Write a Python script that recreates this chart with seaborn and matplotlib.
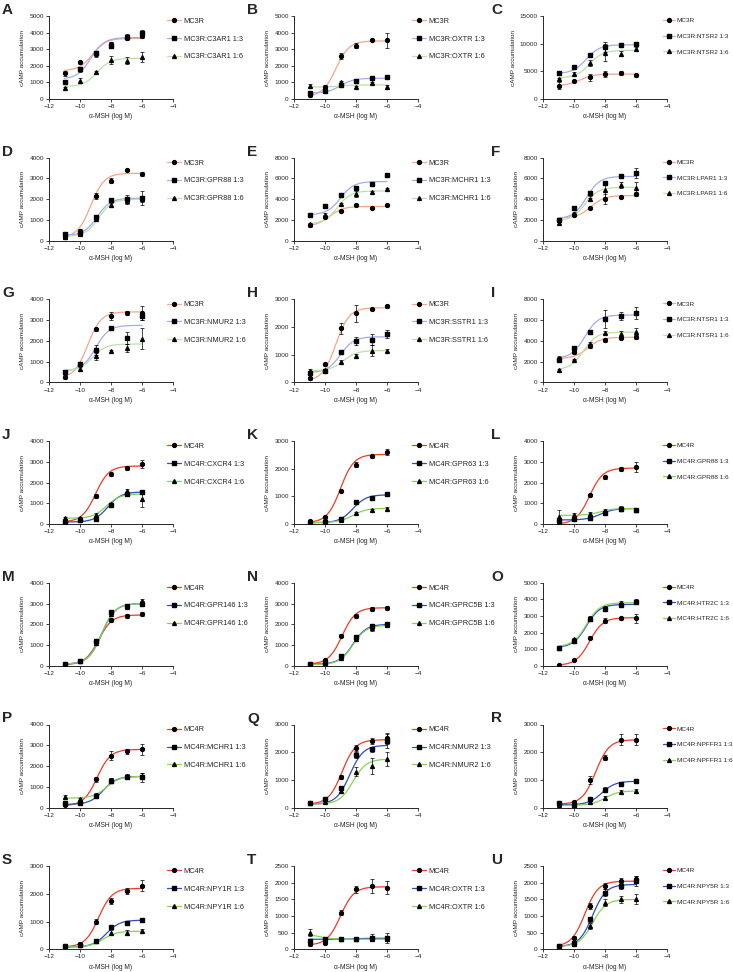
import matplotlib
matplotlib.use("Agg")
import matplotlib.pyplot as plt
import numpy as np
import pandas as pd
import seaborn as sns
from matplotlib.lines import Line2D

letters = list("ABCDEFGHIJKLMNOPQRSTU")
partners = ["C3AR1", "OXTR", "NTSR2", "GPR88", "MCHR1", "LPAR1", "NMUR2", "SSTR1", "NTSR1",
            "CXCR4", "GPR63", "GPR88", "GPR146", "GPRC5B", "HTR2C", "MCHR1", "NMUR2", "NPFFR1",
            "NPY1R", "OXTR", "NPY5R"]
y_max = [5000, 5000, 15000, 4000, 8000, 8000, 4000, 3000, 8000,
         4000, 3000, 4000, 4000, 4000, 5000, 4000, 3000, 3000, 3000, 2500, 2500]
y_step = [1000, 1000, 5000, 1000, 2000, 2000, 1000, 1000, 2000,
          1000, 1000, 1000, 1000, 1000, 1000, 1000, 1000, 1000, 1000, 500, 500]
log_dose = [-11, -10, -9, -8, -7, -6]

# receptor alone (MC3R for A-I, MC4R for J-U)
mc_means = [
    [1550, 2200, 2700, 3300, 3700, 3800],
    [250, 750, 2600, 3200, 3550, 3550],
    [2400, 3200, 3900, 4500, 4700, 4300],
    [200, 450, 2150, 2900, 3400, 3200],
    [1500, 2300, 2850, 3400, 3150, 3400],
    [2000, 2500, 3150, 4000, 4200, 4500],
    [250, 900, 2550, 3200, 3350, 3350],
    [150, 650, 1950, 2500, 2650, 2750],
    [2300, 2900, 3500, 4100, 4300, 4400],
    [150, 200, 1350, 2400, 2700, 2900],
    [100, 250, 1200, 2150, 2450, 2600],
    [100, 250, 1400, 2250, 2650, 2750],
    [100, 250, 1200, 2200, 2400, 2500],
    [100, 300, 1450, 2400, 2750, 2800],
    [50, 350, 1700, 2700, 2850, 2850],
    [100, 250, 1350, 2500, 2700, 2800],
    [150, 300, 1100, 2150, 2400, 2500],
    [150, 200, 1000, 1800, 2450, 2450],
    [100, 200, 1000, 1750, 2100, 2300],
    [150, 200, 1100, 1800, 1900, 1850],
    [100, 350, 1300, 1900, 2050, 2100],
]
mc_sem = [
    [150, 100, 150, 150, 150, 150],
    [100, 100, 200, 150, 80, 450],
    [600, 200, 600, 600, 300, 300],
    [100, 100, 150, 100, 50, 100],
    [150, 150, 100, 80, 80, 80],
    [150, 150, 100, 500, 100, 150],
    [100, 100, 80, 200, 80, 350],
    [50, 50, 200, 300, 50, 50],
    [200, 150, 200, 200, 150, 200],
    [50, 50, 100, 80, 80, 200],
    [50, 50, 50, 80, 50, 100],
    [50, 50, 50, 80, 80, 250],
    [50, 50, 80, 100, 100, 100],
    [50, 50, 80, 80, 100, 100],
    [50, 50, 100, 150, 100, 300],
    [50, 50, 100, 200, 100, 250],
    [50, 50, 80, 100, 100, 200],
    [50, 50, 150, 100, 200, 200],
    [50, 50, 80, 100, 100, 200],
    [50, 50, 80, 100, 200, 200],
    [50, 50, 80, 100, 100, 100],
]
# receptor : partner 1:3
r13_means = [
    [1050, 1800, 2750, 3200, 3750, 4000],
    [360, 460, 860, 1100, 1240, 1300],
    [4700, 5800, 8000, 9400, 9700, 10000],
    [300, 350, 1150, 1950, 2000, 2050],
    [2450, 3300, 4400, 5050, 5450, 6300],
    [2000, 3150, 4550, 5600, 6200, 6500],
    [500, 900, 1550, 2600, 2150, 3200],
    [350, 400, 1100, 1500, 1550, 1750],
    [2200, 3300, 4850, 6100, 6400, 6700],
    [100, 200, 250, 900, 1450, 1550],
    [50, 80, 200, 800, 950, 1070],
    [200, 250, 300, 550, 750, 700],
    [100, 250, 1200, 2600, 2900, 3000],
    [100, 150, 450, 1400, 1900, 2000],
    [1100, 1500, 2800, 3400, 3650, 3850],
    [200, 200, 550, 1300, 1450, 1450],
    [150, 300, 700, 1900, 2100, 2400],
    [150, 100, 300, 650, 850, 950],
    [100, 150, 300, 800, 950, 1050],
    [250, 300, 300, 300, 350, 350],
    [100, 200, 900, 1700, 1900, 2050],
]
r13_sem = [
    [100, 150, 150, 150, 150, 150],
    [100, 100, 80, 80, 80, 100],
    [300, 300, 300, 900, 300, 300],
    [100, 100, 100, 100, 200, 350],
    [100, 100, 100, 100, 100, 200],
    [200, 200, 200, 200, 150, 500],
    [100, 100, 250, 80, 300, 200],
    [50, 50, 50, 150, 200, 150],
    [200, 200, 150, 900, 400, 600],
    [50, 50, 50, 80, 80, 80],
    [30, 30, 50, 80, 50, 50],
    [50, 50, 50, 50, 80, 80],
    [50, 50, 80, 100, 100, 100],
    [50, 50, 50, 100, 100, 100],
    [100, 100, 100, 100, 100, 100],
    [50, 50, 80, 100, 100, 200],
    [50, 50, 80, 100, 100, 250],
    [50, 50, 50, 80, 80, 80],
    [50, 50, 50, 80, 80, 80],
    [50, 50, 50, 50, 100, 150],
    [50, 50, 80, 100, 100, 150],
]
# receptor : partner 1:6
r16_means = [
    [650, 1100, 1600, 2350, 2300, 2550],
    [800, 700, 1000, 720, 960, 720],
    [3600, 4600, 6500, 8400, 8200, 9000],
    [200, 300, 1050, 1700, 1900, 2000],
    [1600, 2450, 3550, 4500, 4650, 4950],
    [1700, 2600, 4000, 4850, 5350, 5100],
    [500, 650, 1250, 1500, 1650, 2100],
    [400, 450, 750, 950, 1150, 1150],
    [1200, 2200, 3700, 4800, 4700, 4900],
    [300, 300, 450, 950, 1600, 1200],
    [80, 60, 150, 400, 500, 560],
    [350, 450, 500, 650, 750, 700],
    [100, 250, 1100, 2500, 2850, 3100],
    [50, 150, 400, 1300, 1800, 1950],
    [1100, 1600, 2900, 3500, 3800, 3900],
    [500, 400, 600, 1300, 1500, 1500],
    [150, 200, 600, 1300, 1500, 1750],
    [100, 100, 200, 350, 550, 600],
    [100, 150, 300, 600, 600, 650],
    [500, 300, 300, 300, 300, 300],
    [100, 150, 700, 1400, 1500, 1500],
]
r16_sem = [
    [80, 150, 80, 250, 200, 300],
    [80, 80, 100, 80, 80, 100],
    [200, 200, 500, 1500, 500, 400],
    [80, 80, 80, 100, 150, 150],
    [100, 200, 100, 300, 100, 100],
    [150, 150, 150, 600, 300, 600],
    [80, 80, 150, 80, 200, 500],
    [80, 50, 50, 80, 200, 50],
    [80, 80, 200, 150, 300, 300],
    [50, 50, 100, 80, 100, 400],
    [30, 30, 30, 50, 50, 50],
    [350, 100, 80, 80, 100, 80],
    [50, 50, 80, 100, 100, 100],
    [50, 50, 50, 100, 100, 100],
    [100, 100, 100, 100, 100, 100],
    [100, 80, 80, 100, 100, 150],
    [50, 50, 80, 150, 300, 250],
    [50, 50, 50, 50, 80, 80],
    [50, 50, 50, 80, 80, 80],
    [100, 50, 50, 50, 50, 50],
    [50, 50, 80, 100, 100, 150],
]

# fitted sigmoid parameters: (bottom, top, logEC50)
mc_fit = [(1700, 3650, -9.2), (150, 3500, -9.3), (2400, 4500, -9.6), (150, 3250, -9.3),
          (1400, 3300, -9.7), (2200, 4350, -8.9), (200, 3400, -9.5), (50, 2700, -9.3),
          (2300, 4350, -9.1), (100, 2800, -9.0), (50, 2520, -9.0), (0, 2700, -9.0),
          (50, 2450, -8.8), (80, 2800, -8.9), (30, 2900, -9.0), (80, 2800, -8.9),
          (120, 2450, -8.9), (120, 2450, -8.6), (80, 2200, -8.8), (120, 1880, -9.0),
          (80, 2050, -9.3)]
r13_fit = [(1200, 3700, -9.3), (350, 1250, -9.0), (4600, 9800, -9.2), (250, 2050, -8.9),
           (2500, 5700, -9.0), (2100, 6200, -9.2), (550, 2750, -9.0), (350, 1650, -9.0),
           (2300, 6500, -9.3), (100, 1550, -8.2), (50, 1060, -8.2), (200, 750, -8.3),
           (80, 3000, -8.6), (80, 2000, -8.2), (1100, 3700, -9.2), (150, 1500, -8.5),
           (120, 2250, -8.4), (100, 950, -8.2), (80, 1050, -8.3), (300, 330, -8.0),
           (80, 1950, -8.8)]
r16_fit = [(750, 2450, -8.9), (720, 850, -9.0), (3800, 8800, -9.0), (200, 2000, -8.8),
           (1600, 4800, -9.2), (1900, 5150, -9.3), (550, 1850, -9.2), (420, 1150, -8.8),
           (1200, 4850, -9.4), (280, 1450, -8.3), (60, 570, -8.2), (420, 760, -8.3),
           (80, 3000, -8.6), (60, 1950, -8.2), (1150, 3800, -9.2), (450, 1500, -8.3),
           (120, 1750, -8.2), (80, 600, -8.0), (80, 650, -8.5), (450, 300, -10.3),
           (80, 1500, -8.8)]

mc3_colors = ["#F5A689", "#A3ACEE", "#BAE2A6"]
mc4_colors = ["#EE3B24", "#2E4CC4", "#86D35A"]
markers = ["o", "s", "^"]

sns.set_theme(style="ticks")
plt.rcParams["font.family"] = ["Liberation Sans", "DejaVu Sans"]

W, H = 733, 972
fig = plt.figure(figsize=(W / 100, H / 100), dpi=100)

col_left = [49, 294, 543]
letter_x = [2, 247, 491]
legend_x = [0.955, 0.955, 0.965]
legend_fs = [5.3, 5.3, 4.6]
ax_w, ax_h = 124, 83
row_top0, row_pitch = 16, 141.7

x_curve = np.linspace(-11, -6, 120)

for i, letter in enumerate(letters):
    r, c = divmod(i, 3)
    top = row_top0 + r * row_pitch
    ax = fig.add_axes([col_left[c] / W, 1 - (top + ax_h) / H, ax_w / W, ax_h / H])
    base = "MC3R" if i < 9 else "MC4R"
    colors = mc3_colors if i < 9 else mc4_colors
    labels = [base, f"{base}:{partners[i]} 1:3", f"{base}:{partners[i]} 1:6"]
    means = [mc_means[i], r13_means[i], r16_means[i]]
    sems = [mc_sem[i], r13_sem[i], r16_sem[i]]
    fits = [mc_fit[i], r13_fit[i], r16_fit[i]]

    for k in range(3):
        bottom, topv, ec = fits[k]
        curve = pd.DataFrame({"x": x_curve,
                              "y": bottom + (topv - bottom) / (1 + 10 ** (ec - x_curve))})
        sns.lineplot(data=curve, x="x", y="y", color=colors[k], lw=0.9, ax=ax, zorder=2)
        ax.errorbar(log_dose, means[k], yerr=sems[k], fmt=markers[k], color="black",
                    ms=2.8, capsize=1.3, elinewidth=0.5, capthick=0.5, zorder=3)

    ax.set_xlim(-12, -4)
    ax.set_xticks([-12, -10, -8, -6, -4])
    ax.set_ylim(0, y_max[i])
    ax.set_yticks(np.arange(0, y_max[i] + 1, y_step[i]))
    ax.set_xlabel("α-MSH (log M)", fontsize=4.8, labelpad=3)
    ax.set_ylabel("cAMP accumulation", fontsize=4.6, labelpad=3)
    ax.tick_params(axis="both", labelsize=4.6, length=2.2, width=0.6, pad=1.5)
    for s in ["left", "bottom"]:
        ax.spines[s].set_linewidth(0.7)
    sns.despine(ax=ax)

    handles = [Line2D([0], [0], color=colors[k], lw=0.9, marker=markers[k], ms=2.8,
                      markerfacecolor="black", markeredgecolor="black", label=labels[k])
               for k in range(3)]
    ax.legend(handles=handles, loc="upper left", bbox_to_anchor=(legend_x[c], 0.98),
              frameon=False, fontsize=legend_fs[c], handlelength=1.9, handletextpad=0.3,
              labelspacing=1.6 if c == 2 else 1.45, borderpad=0, borderaxespad=0)

    fig.text(letter_x[c] / W, 1 - (top - 13) / H, letter, fontsize=11, fontweight="bold",
             ha="left", va="top")

fig.savefig("out.png", dpi=100)
